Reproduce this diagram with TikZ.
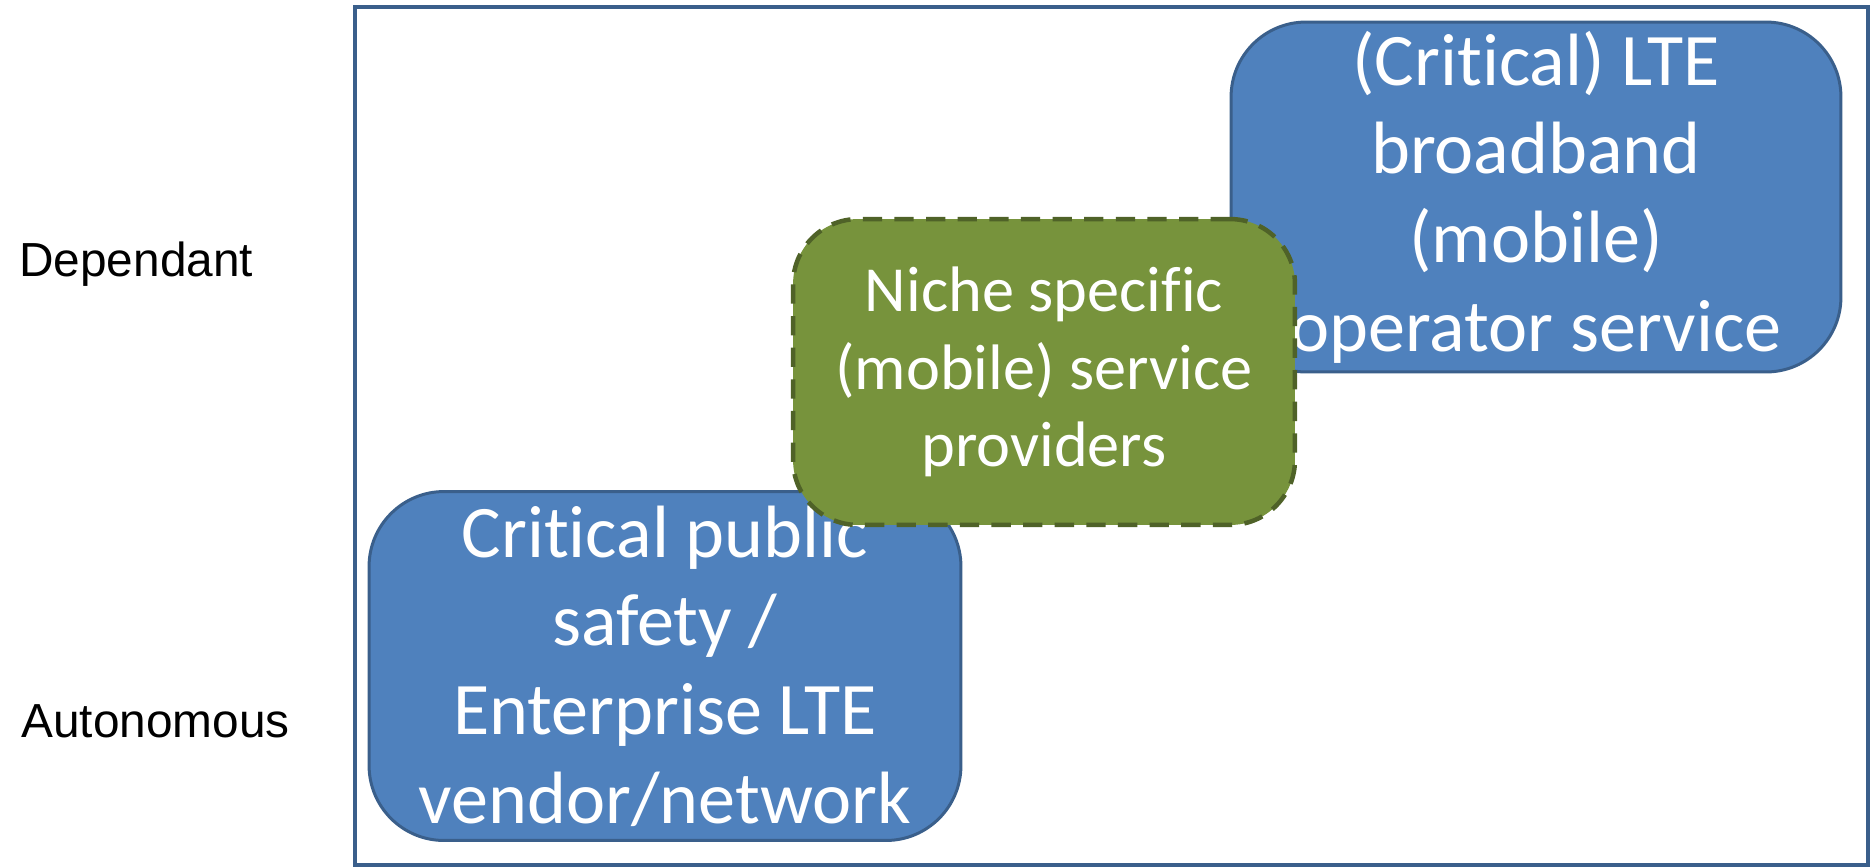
\documentclass[tikz,border=0pt]{standalone}
\usepackage{fontspec}
\setmainfont[Ligatures=NoCommon]{Carlito}
\newfontfamily\arialfont{Liberation Sans}
\usetikzlibrary{positioning}
\definecolor{boxblue}{HTML}{4F81BD}
\definecolor{boxblueline}{HTML}{3A5F8B}
\definecolor{nichegreen}{HTML}{77933C}
\definecolor{nichegreenline}{HTML}{4F6228}

\begin{document}
\begin{tikzpicture}[
			x=0.02cm, y=-0.02cm,
			frame/.style={draw=boxblueline, line width=0.09cm},
			bluebox/.style={rectangle, rounded corners=1.5cm, draw=boxblueline, line width=0.06cm, fill=boxblue, text=white, align=center, inner sep=0pt, font=\fontsize{42.2}{50.5}\selectfont},
			nichebox/.style={rectangle, rounded corners=1.3cm, draw=nichegreenline, line width=0.09cm, dash pattern=on 11pt off 7pt, fill=nichegreen, text=white, align=center, inner sep=0pt, font=\fontsize{36.6}{44}\selectfont},
			axislabel/.style={anchor=base west, inner sep=0pt, font=\arialfont\fontsize{27.2}{31}\selectfont},
			]
			\useasboundingbox (0,0) rectangle (1872,867);
			
			% Frame
			\draw[frame] (355,7) rectangle (1868,865);
			
			% Axis labels
			\node (dep) [axislabel] at (19,276) {Dependant};
			\node (auto) [axislabel] at (21,737) {Autonomous};
			
			% Boxes
			\node (ent) [bluebox, minimum width=11.84cm, minimum height=6.98cm] at (665,666) {Critical public\\safety /\\Enterprise LTE\\vendor/network};
			\node (lte) [bluebox, minimum width=12.2cm, minimum height=7cm] at (1536,197) {(Critical) LTE\\broadband\\(mobile)\\operator service};
			\node (niche) [nichebox, minimum width=10.04cm, minimum height=6.12cm] at (1044,372) {Niche specific\\(mobile) service\\providers};
		\end{tikzpicture}
\end{document}
